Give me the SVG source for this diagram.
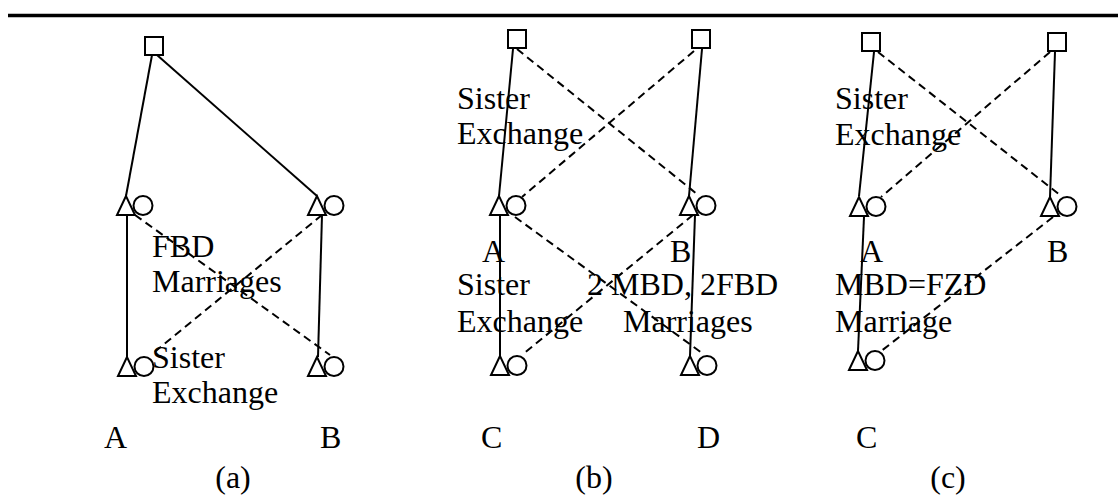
<svg xmlns="http://www.w3.org/2000/svg" width="1118" height="497" viewBox="0 0 1118 497">
  <style>
    .sym { fill: none; stroke: #000; stroke-width: 2; }
    .solid { fill: none; stroke: #000; stroke-width: 2; }
    .dash { fill: none; stroke: #000; stroke-width: 2; stroke-dasharray: 8 5; }
    .lbl { font-family: "Liberation Serif", "Times New Roman", serif; font-size: 32px; fill: #000; }
  </style>
  <defs>
    <!-- male+female couple: triangle with circle to its right; origin at triangle apex -->
    <g id="couple">
      <path class="sym" d="M0,0 L-9,19 L9,19 Z"/>
      <circle class="sym" cx="17" cy="9.5" r="9.5"/>
    </g>
    <rect id="sq" class="sym" x="0" y="0" width="18" height="18"/>
  </defs>

  <rect width="1118" height="497" fill="#fff"/>
  <line x1="8" y1="15.5" x2="1118" y2="15.5" stroke="#000" stroke-width="3.5"/>

  <!-- connectors -->
  <g id="connectors">
    <!-- (a) -->
    <line class="solid" x1="152" y1="55" x2="126" y2="196"/>
    <line class="solid" x1="157" y1="55" x2="317" y2="196"/>
    <line class="solid" x1="127" y1="215" x2="127" y2="357"/>
    <line class="solid" x1="322" y1="215" x2="318" y2="357"/>
    <line class="dash" x1="135" y1="215" x2="330" y2="355"/>
    <line class="dash" x1="322" y1="215" x2="152" y2="354"/>
    <!-- (b) -->
    <line class="solid" x1="513" y1="49" x2="499" y2="196"/>
    <line class="solid" x1="702" y1="49" x2="689" y2="196"/>
    <line class="dash" x1="517" y1="49" x2="697" y2="194"/>
    <line class="dash" x1="694" y1="51" x2="522" y2="197"/>
    <line class="solid" x1="500" y1="215" x2="500" y2="356"/>
    <line class="solid" x1="695" y1="215" x2="690" y2="356"/>
    <line class="dash" x1="515" y1="217" x2="702" y2="353"/>
    <line class="dash" x1="693" y1="215" x2="522" y2="355"/>
    <!-- (c) -->
    <line class="solid" x1="874" y1="52" x2="859" y2="196"/>
    <line class="solid" x1="1055" y1="52" x2="1050" y2="197"/>
    <line class="dash" x1="878" y1="52" x2="1060" y2="195"/>
    <line class="dash" x1="1050" y1="52" x2="881" y2="197"/>
    <line class="solid" x1="864" y1="217" x2="858" y2="351"/>
    <line class="dash" x1="1053" y1="217" x2="880" y2="352"/>
  </g>

  <!-- (a) nodes -->
  <g id="a-father"><use href="#sq" x="145" y="37"/></g>
  <g id="a-A1"><use href="#couple" x="126" y="196"/></g>
  <g id="a-B1"><use href="#couple" x="317" y="196"/></g>
  <g id="a-A2"><use href="#couple" x="127" y="357"/></g>
  <g id="a-B2"><use href="#couple" x="317" y="357"/></g>

  <!-- (b) nodes -->
  <g id="b-F1"><use href="#sq" x="508" y="30"/></g>
  <g id="b-F2"><use href="#sq" x="692" y="30"/></g>
  <g id="b-A"><use href="#couple" x="499" y="196"/></g>
  <g id="b-B"><use href="#couple" x="689" y="196"/></g>
  <g id="b-C"><use href="#couple" x="500" y="356"/></g>
  <g id="b-D"><use href="#couple" x="690" y="356"/></g>

  <!-- (c) nodes -->
  <g id="c-F1"><use href="#sq" x="862" y="33"/></g>
  <g id="c-F2"><use href="#sq" x="1048" y="33"/></g>
  <g id="c-A"><use href="#couple" x="859" y="197"/></g>
  <g id="c-B"><use href="#couple" x="1050" y="197"/></g>
  <g id="c-C"><use href="#couple" x="858" y="351"/></g>

  <!-- labels -->
  <g id="labels" class="lbl">
    <text x="152" y="257">FBD</text>
    <text x="152" y="292">Marriages</text>
    <text x="152" y="368">Sister</text>
    <text x="152" y="403">Exchange</text>
    <text x="104" y="448">A</text>
    <text x="320" y="448">B</text>
    <text x="233" y="488" text-anchor="middle">(a)</text>

    <text x="457" y="109">Sister</text>
    <text x="457" y="144">Exchange</text>
    <text x="482" y="262">A</text>
    <text x="670" y="262">B</text>
    <text x="457" y="295">Sister</text>
    <text x="457" y="332">Exchange</text>
    <text x="587" y="295">2 MBD, 2FBD</text>
    <text x="623" y="332">Marriages</text>
    <text x="481" y="448">C</text>
    <text x="697" y="448">D</text>
    <text x="594" y="488" text-anchor="middle">(b)</text>

    <text x="835" y="109">Sister</text>
    <text x="835" y="145">Exchange</text>
    <text x="860" y="262">A</text>
    <text x="1047" y="262">B</text>
    <text x="835" y="295">MBD=FZD</text>
    <text x="835" y="332">Marriage</text>
    <text x="856" y="448">C</text>
    <text x="948" y="488" text-anchor="middle">(c)</text>
  </g>
</svg>
